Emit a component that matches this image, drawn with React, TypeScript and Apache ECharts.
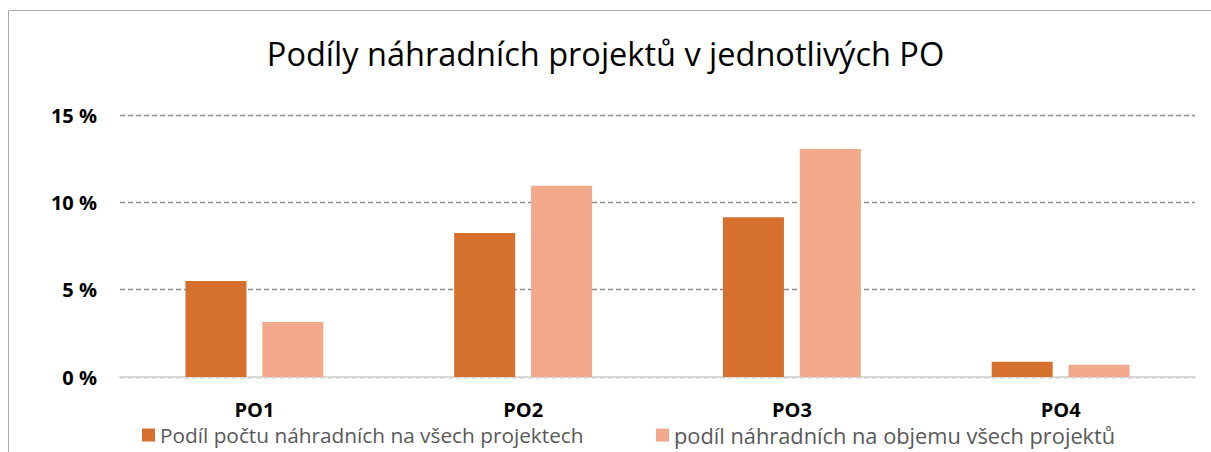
import React, { useEffect, useRef } from "react";
import * as echarts from "echarts";

const categories = ["PO1", "PO2", "PO3", "PO4"];
const seriesNames = [
  "Podíl počtu náhradních na všech projektech",
  "podíl náhradních na objemu všech projektů",
];
const countShare = [5.5, 8.25, 9.15, 0.88];
const volumeShare = [3.15, 10.95, 13.05, 0.7];
const yTicks = [0, 5, 10, 15];
const title = "Podíly náhradních projektů v jednotlivých PO";

export default function App() {
  const ref = useRef<HTMLDivElement>(null);
  useEffect(() => {
    const chart = echarts.init(ref.current!, null, { renderer: "svg" });
    const font = "'Open Sans', sans-serif";
    const legendBase = {
      top: 423,
      padding: 0,
      icon: "rect",
      itemWidth: 13,
      itemHeight: 13,
    };
    chart.setOption({
      animation: false,
      textStyle: { fontFamily: font },
      title: {
        text: title,
        left: "center",
        top: 32,
        textStyle: { fontFamily: font, fontSize: 32.5, fontWeight: "normal", color: "#000" },
      },
      graphic: [
        {
          type: "line",
          shape: { x1: 8.5, y1: 10.5, x2: 1211, y2: 10.5 },
          style: { stroke: "#ABABAB", lineWidth: 1 },
          silent: true,
        },
        {
          type: "line",
          shape: { x1: 8.5, y1: 10.5, x2: 8.5, y2: 452 },
          style: { stroke: "#ABABAB", lineWidth: 1 },
          silent: true,
        },
      ],
      legend: [
        {
          ...legendBase,
          left: 142,
          textStyle: { fontFamily: font, fontSize: 20.8, lineHeight: 24, color: "#595959" },
          data: [seriesNames[0]],
        },
        {
          ...legendBase,
          left: 656,
          textStyle: { fontFamily: font, fontSize: 21.8, lineHeight: 24, color: "#595959" },
          data: [seriesNames[1]],
        },
      ],
      grid: { left: 120, right: 16, top: 115, bottom: 75, containLabel: false },
      xAxis: {
        type: "category",
        data: categories,
        axisLine: { lineStyle: { color: "#D9D9D9", width: 2 } },
        axisTick: { show: false },
        axisLabel: { fontFamily: font, fontSize: 20, fontWeight: "bold", color: "#000", margin: 22 },
      },
      yAxis: {
        type: "value",
        min: yTicks[0],
        max: yTicks[yTicks.length - 1],
        interval: 5,
        axisLine: { show: false },
        axisTick: { show: false },
        axisLabel: {
          fontFamily: font,
          fontSize: 20,
          fontWeight: "bold",
          color: "#000",
          margin: 23,
          formatter: (v: number) => `${v} %`,
        },
        splitLine: { lineStyle: { color: "#8C8C8C", type: [5, 3], width: 1.3 } },
      },
      series: [
        {
          name: seriesNames[0],
          type: "bar",
          data: countShare,
          barWidth: 61,
          barGap: "26%",
          itemStyle: { color: "#D5702D" },
        },
        {
          name: seriesNames[1],
          type: "bar",
          data: volumeShare,
          barWidth: 61,
          itemStyle: { color: "#F2A98B" },
        },
      ],
    });
    return () => chart.dispose();
  }, []);
  return (
    <div
      ref={ref}
      style={{ position: "fixed", left: 0, top: 0, width: 1211, height: 452, background: "#fff" }}
    />
  );
}
